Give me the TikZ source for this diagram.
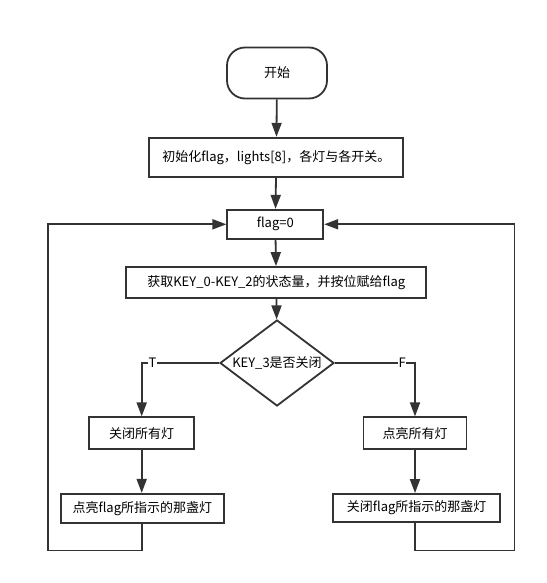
\documentclass[tikz,border=0pt]{standalone}
\usepackage{fontspec}
\setmainfont{Noto Sans CJK SC}
\usetikzlibrary{arrows.meta,shapes.geometric}
\definecolor{ln}{HTML}{333333}
\tikzset{
  box/.style={draw=ln, line width=1.8pt, fill=white, inner sep=0pt, text=black, font=\fontsize{13}{15}\selectfont},
  decision/.style={draw=ln, line width=1.8pt, diamond, inner sep=0pt, minimum width=114pt, minimum height=86pt},
  txt/.style={text=black, font=\fontsize{13}{15}\selectfont, inner sep=1pt},
  arr/.style={draw=ln, line width=1.8pt, -{Triangle[length=14pt,width=10pt]}},
  ln/.style={draw=ln, line width=1.8pt},
}
\begin{document}
\begin{tikzpicture}[x=1pt,y=-1pt]
\useasboundingbox (0,0) rectangle (546,583);
\node[box, rounded corners=18pt, minimum width=100pt, minimum height=51pt] (start) at (277,73) {开始};
\node[box, minimum width=254pt, minimum height=39pt] (init) at (276.3,157.2) {初始化flag，lights[8]，各灯与各开关。};
\node[box, minimum width=96pt, minimum height=29pt] (f0) at (275.3,224.3) {flag=0};
\node[box, minimum width=300pt, minimum height=31pt] (get) at (276.3,282.5) {获取KEY\_0-KEY\_2的状态量，并按位赋给flag};
\node[decision] (d) at (277,363) {};
\node[txt] (dt) at (d.center) {KEY\_3是否关闭};
\node[box, minimum width=105pt, minimum height=32pt] (L1) at (141.7,433.3) {关闭所有灯};
\node[box, minimum width=163pt, minimum height=29pt] (L2) at (142.3,508.3) {点亮flag所指示的那盏灯};
\node[box, minimum width=103pt, minimum height=32pt] (R1) at (415,433.3) {点亮所有灯};
\node[box, minimum width=167pt, minimum height=28pt] (R2) at (416.7,508) {关闭flag所指示的那盏灯};
\coordinate (lc) at (48,550.5);
\coordinate (rc) at (514.5,550.5);
\draw[arr] (start) -- (init);
\draw[arr] (init) -- (f0);
\draw[arr] (f0) -- (get);
\draw[arr] (get) -- (d);
\draw[arr] (d.west) -| node[pos=0.43, fill=white, txt, inner sep=0.5pt] {T} (L1.north);
\draw[arr] (d.east) -| node[pos=0.42, fill=white, txt, inner sep=0.5pt] {F} (R1.north);
\draw[arr] (L1) -- (L1 |- L2.north);
\draw[arr] (R1) -- (R1 |- R2.north);
\draw[arr] (L2.south -| L1.south) |- (lc) |- (f0.west);
\draw[arr] (R2.south -| R1.south) |- (rc) |- (f0.east);
\end{tikzpicture}
\end{document}
